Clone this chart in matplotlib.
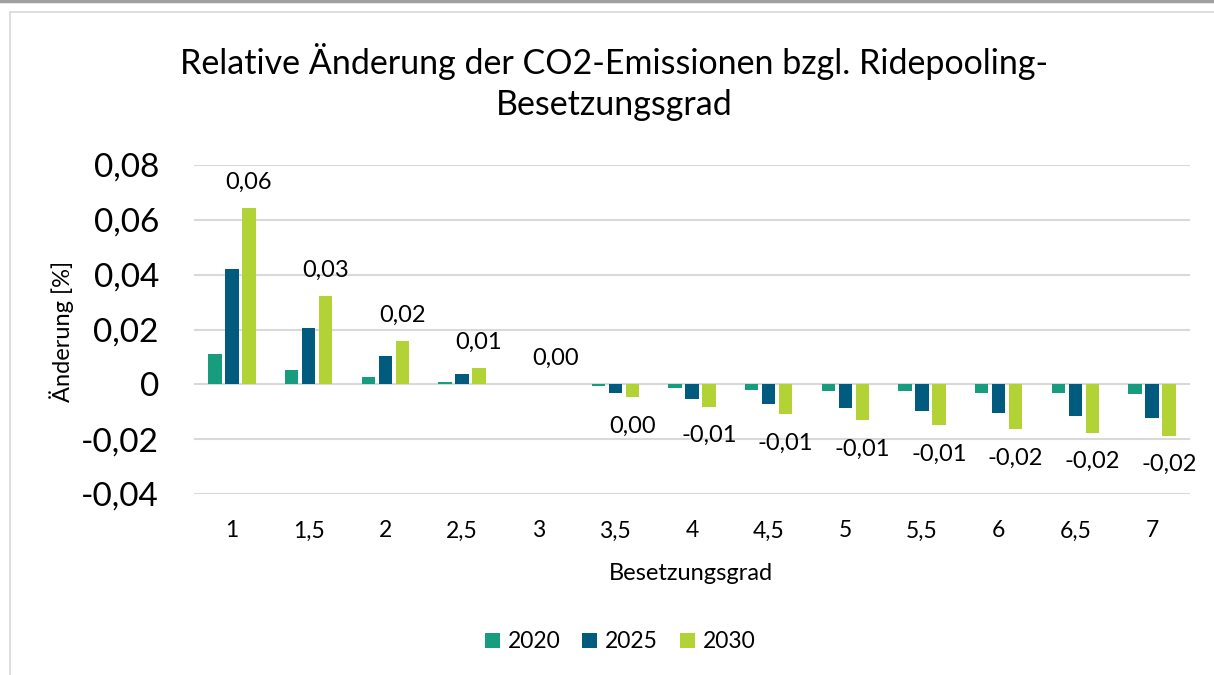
import numpy as np
import matplotlib as mpl
mpl.use('Agg')
from matplotlib import pyplot as plt
from matplotlib.patches import Rectangle, Patch
import matplotlib.lines as mlines

plt.rcParams['font.family'] = ['Lato', 'DejaVu Sans']

# data
categories = ['1', '1,5', '2', '2,5', '3', '3,5', '4', '4,5', '5', '5,5', '6', '6,5', '7']
series_names = ['2020', '2025', '2030']
vals_2020 = [0.0110, 0.0054, 0.0025, 0.0009, 0.0, -0.0006, -0.0015, -0.0020, -0.0024, -0.0026, -0.0030, -0.0031, -0.0034]
vals_2025 = [0.0420, 0.0207, 0.0102, 0.0039, 0.0, -0.0030, -0.0054, -0.0071, -0.0085, -0.0097, -0.0105, -0.0115, -0.0122]
vals_2030 = [0.0644, 0.0321, 0.0158, 0.0061, 0.0, -0.0048, -0.0081, -0.0108, -0.0131, -0.0149, -0.0163, -0.0176, -0.0187]
y_ticks = [-0.04, -0.02, 0, 0.02, 0.04, 0.06, 0.08]
y_tick_labels = ['-0,04', '-0,02', '0', '0,02', '0,04', '0,06', '0,08']

colors = ['#179C7D', '#005B7F', '#B2D235']


def fmt(v):
    s = '{:.2f}'.format(v).replace('.', ',')
    if s == '-0,00':
        s = '0,00'
    return s


fig = plt.figure(figsize=(12.14, 6.75), dpi=100)

# page line and chart border
fig.add_artist(mlines.Line2D([0, 1], [0.998, 0.998], color='#A0A0A0', lw=2.5,
                             transform=fig.transFigure))
fig.add_artist(Rectangle((10 / 1214, -0.05), 1.1, 1 - 12 / 675 + 0.05, fill=False,
                         edgecolor='#D9D9D9', lw=1.2, transform=fig.transFigure))

ax = fig.add_axes([193.7 / 1214, 1 - 494 / 675, 996.6 / 1214, 329 / 675])

x = np.arange(len(categories))
width = 0.174
pitch = 0.22
all_vals = [vals_2020, vals_2025, vals_2030]
for i, (vals, c) in enumerate(zip(all_vals, colors)):
    ax.bar(x + (i - 1) * pitch, vals, width=width, color=c, linewidth=0, zorder=3)

# data labels on 2030 series
for xi, v in zip(x, vals_2030):
    xpos = xi + pitch
    if v >= 0:
        ax.annotate(fmt(v), (xpos, v), xytext=(0, 18.5), textcoords='offset points',
                    ha='center', va='center', fontsize=17, color='black')
    else:
        ax.annotate(fmt(v), (xpos, v), xytext=(0, -21), textcoords='offset points',
                    ha='center', va='center', fontsize=17, color='black')

ax.set_xlim(-0.5, len(categories) - 0.5)
ax.set_ylim(-0.04, 0.08)
ax.set_yticks(y_ticks)
ax.set_yticklabels(y_tick_labels, fontsize=24)
ax.set_xticks(x)
ax.set_xticklabels(categories, fontsize=16.5)
ax.tick_params(axis='both', length=0)
ax.tick_params(axis='y', pad=25)
ax.tick_params(axis='x', pad=19)
ax.grid(axis='y', color='#D9D9D9', lw=1.5, zorder=0)
for s in ax.spines.values():
    s.set_visible(False)

fig.text(691 / 1214, 1 - 573 / 675, 'Besetzungsgrad', ha='center', va='center', fontsize=17)
fig.text(62 / 1214, 1 - 331 / 675, 'Änderung [%]', ha='center', va='center',
         rotation=90, fontsize=17)

fig.text(614 / 1214, 1 - 62 / 675, 'Relative Änderung der CO2-Emissionen bzgl. Ridepooling-',
         ha='center', va='center', fontsize=24.5)
fig.text(614 / 1214, 1 - 105 / 675, 'Besetzungsgrad', ha='center', va='center', fontsize=24.5)

handles = [Patch(facecolor=c, edgecolor='none') for c in colors]
fig.legend(handles, series_names, loc='center', bbox_to_anchor=(620 / 1214, 1 - 642 / 675),
           ncol=3, frameon=False, fontsize=16.5, handlelength=0.65, handleheight=0.65,
           handletextpad=0.35, columnspacing=0.95)

plt.savefig('out.png', dpi=100)
plt.close()
